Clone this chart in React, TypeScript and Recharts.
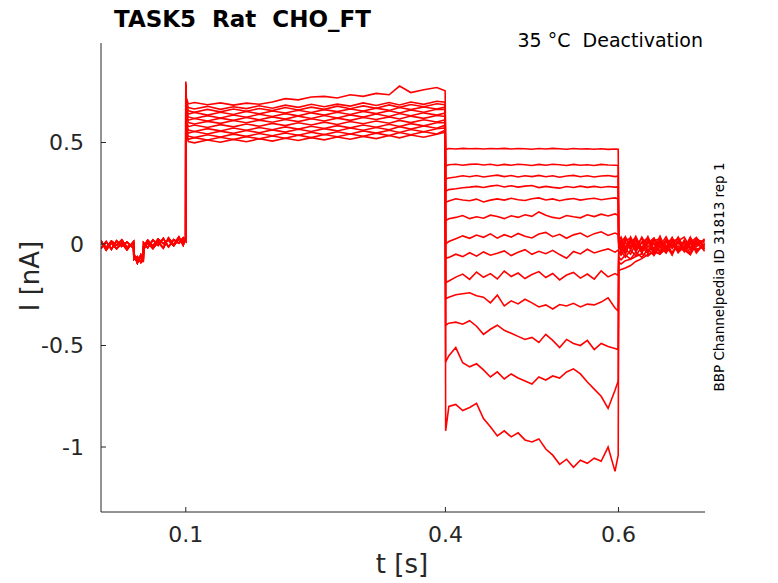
import React from 'react';
import { LineChart, Line, XAxis, YAxis } from 'recharts';

// time grids (s) for the four parts of the protocol
const preTime = [0.002, 0.008, 0.014, 0.02, 0.026, 0.032, 0.0396, 0.04, 0.044, 0.048, 0.0508, 0.0512, 0.056, 0.062, 0.068, 0.074, 0.08, 0.086, 0.092, 0.097, 0.0999];
const pulseTime = [0.1, 0.1006, 0.103, 0.11, 0.125, 0.14, 0.155, 0.17, 0.185, 0.2, 0.215, 0.23, 0.245, 0.26, 0.275, 0.29, 0.305, 0.32, 0.335, 0.347, 0.36, 0.375, 0.39, 0.3997];
const testTime = [0.4003, 0.404, 0.412, 0.42, 0.428, 0.436, 0.444, 0.452, 0.46, 0.468, 0.476, 0.484, 0.492, 0.5, 0.508, 0.516, 0.524, 0.532, 0.54, 0.548, 0.556, 0.564, 0.572, 0.58, 0.588, 0.596, 0.5997];
const tailTime = [0.6003, 0.603, 0.608, 0.614, 0.62, 0.627, 0.634, 0.641, 0.648, 0.655, 0.662, 0.669, 0.676, 0.683, 0.69, 0.6995];

// holding current before the pulse (nA), three overlapping groups of sweeps
const preA = [0.008, -0.018, 0.014, -0.006, 0.02, -0.016, 0.004, -0.058, -0.084, -0.066, -0.08, -0.012, 0.018, -0.01, 0.024, 0.002, 0.02, -0.008, 0.026, 0.012, 0.022];
const preB = [-0.022, 0.012, -0.026, 0.016, -0.012, 0.01, -0.02, -0.076, -0.062, -0.09, -0.058, 0.006, -0.018, 0.02, -0.006, 0.028, -0.014, 0.022, 0.004, 0.03, 0.014];
const preC = [0.016, -0.03, 0.006, -0.024, 0.004, -0.028, 0.012, -0.048, -0.094, -0.054, -0.088, -0.026, 0.006, -0.022, 0.01, -0.02, 0.03, -0.004, 0.034, -0.006, 0.035];
const preSets = [preA, preB, preC];

// activating pulse 0.1 - 0.4 s
const pulse1 = [0.8, 0.72, 0.69, 0.697, 0.686, 0.695, 0.684, 0.694, 0.688, 0.699, 0.716, 0.71, 0.724, 0.727, 0.719, 0.735, 0.727, 0.742, 0.735, 0.778, 0.746, 0.76, 0.771, 0.755];
const pulse2 = [0.79, 0.7, 0.672, 0.665, 0.678, 0.663, 0.676, 0.667, 0.681, 0.669, 0.684, 0.673, 0.688, 0.676, 0.689, 0.679, 0.695, 0.682, 0.697, 0.685, 0.699, 0.688, 0.703, 0.698];
const pulse3 = [0.785, 0.685, 0.656, 0.649, 0.663, 0.651, 0.665, 0.654, 0.667, 0.657, 0.672, 0.66, 0.674, 0.663, 0.679, 0.666, 0.68, 0.669, 0.685, 0.673, 0.687, 0.676, 0.691, 0.686];
const pulse4 = [0.78, 0.67, 0.64, 0.648, 0.635, 0.649, 0.638, 0.653, 0.641, 0.655, 0.645, 0.659, 0.648, 0.662, 0.652, 0.665, 0.655, 0.669, 0.658, 0.672, 0.662, 0.675, 0.665, 0.675];
const pulse5 = [0.78, 0.655, 0.626, 0.618, 0.632, 0.621, 0.635, 0.624, 0.639, 0.628, 0.642, 0.631, 0.646, 0.635, 0.649, 0.638, 0.653, 0.642, 0.656, 0.645, 0.66, 0.649, 0.664, 0.663];
const pulse6 = [0.775, 0.64, 0.61, 0.618, 0.606, 0.62, 0.609, 0.623, 0.612, 0.626, 0.615, 0.63, 0.618, 0.633, 0.621, 0.636, 0.625, 0.64, 0.628, 0.643, 0.632, 0.646, 0.635, 0.645];
const pulse7 = [0.775, 0.625, 0.598, 0.591, 0.604, 0.594, 0.608, 0.597, 0.61, 0.6, 0.613, 0.603, 0.617, 0.606, 0.62, 0.609, 0.623, 0.613, 0.626, 0.616, 0.63, 0.619, 0.633, 0.628];
const pulse8 = [0.77, 0.605, 0.578, 0.586, 0.574, 0.588, 0.577, 0.591, 0.58, 0.594, 0.583, 0.597, 0.586, 0.6, 0.589, 0.603, 0.592, 0.606, 0.595, 0.609, 0.598, 0.612, 0.601, 0.612];
const pulse9 = [0.77, 0.59, 0.561, 0.554, 0.568, 0.557, 0.571, 0.56, 0.574, 0.563, 0.577, 0.566, 0.58, 0.569, 0.583, 0.572, 0.586, 0.575, 0.59, 0.579, 0.593, 0.582, 0.597, 0.598];
const pulse10 = [0.765, 0.575, 0.546, 0.554, 0.542, 0.556, 0.545, 0.559, 0.548, 0.562, 0.551, 0.565, 0.554, 0.568, 0.557, 0.571, 0.56, 0.574, 0.563, 0.578, 0.566, 0.581, 0.57, 0.585];
const pulse11 = [0.765, 0.56, 0.531, 0.524, 0.538, 0.527, 0.541, 0.53, 0.544, 0.533, 0.547, 0.536, 0.55, 0.539, 0.553, 0.542, 0.557, 0.546, 0.56, 0.549, 0.564, 0.553, 0.568, 0.572];
const pulse12 = [0.76, 0.545, 0.516, 0.524, 0.512, 0.526, 0.515, 0.529, 0.518, 0.532, 0.521, 0.536, 0.524, 0.539, 0.528, 0.542, 0.531, 0.546, 0.534, 0.549, 0.538, 0.553, 0.542, 0.56];
const pulse13 = [0.76, 0.535, 0.505, 0.498, 0.512, 0.501, 0.515, 0.504, 0.518, 0.507, 0.521, 0.51, 0.524, 0.513, 0.527, 0.516, 0.53, 0.519, 0.534, 0.523, 0.537, 0.526, 0.541, 0.55];
const pulseSets = [pulse1, pulse2, pulse3, pulse4, pulse5, pulse6, pulse7, pulse8, pulse9, pulse10, pulse11, pulse12, pulse13];

// deactivation steps 0.4 - 0.6 s
const test1 = [0.465, 0.47, 0.468, 0.471, 0.469, 0.47, 0.468, 0.47, 0.469, 0.471, 0.468, 0.47, 0.469, 0.467, 0.47, 0.468, 0.471, 0.469, 0.467, 0.47, 0.468, 0.469, 0.467, 0.469, 0.466, 0.468, 0.467];
const test2 = [0.385, 0.39, 0.393, 0.388, 0.392, 0.394, 0.389, 0.393, 0.387, 0.392, 0.388, 0.393, 0.39, 0.387, 0.392, 0.388, 0.393, 0.39, 0.387, 0.392, 0.388, 0.39, 0.387, 0.392, 0.389, 0.388, 0.387];
const test3 = [0.32, 0.325, 0.33, 0.336, 0.331, 0.337, 0.33, 0.335, 0.339, 0.332, 0.337, 0.33, 0.336, 0.332, 0.338, 0.331, 0.336, 0.329, 0.335, 0.338, 0.331, 0.336, 0.33, 0.335, 0.337, 0.332, 0.335];
const test4 = [0.26, 0.268, 0.272, 0.277, 0.28, 0.284, 0.278, 0.285, 0.289, 0.281, 0.287, 0.28, 0.285, 0.288, 0.278, 0.284, 0.279, 0.275, 0.283, 0.278, 0.285, 0.279, 0.284, 0.278, 0.283, 0.28, 0.281];
const test5 = [0.205, 0.212, 0.223, 0.217, 0.213, 0.221, 0.207, 0.216, 0.222, 0.216, 0.225, 0.218, 0.214, 0.223, 0.227, 0.217, 0.222, 0.213, 0.22, 0.224, 0.216, 0.222, 0.225, 0.218, 0.223, 0.227, 0.222];
const test6 = [0.115, 0.124, 0.131, 0.14, 0.125, 0.134, 0.127, 0.142, 0.135, 0.125, 0.139, 0.131, 0.144, 0.136, 0.158, 0.142, 0.131, 0.126, 0.14, 0.134, 0.129, 0.144, 0.135, 0.147, 0.138, 0.148, 0.141];
const test7 = [0.0, 0.012, 0.026, 0.04, 0.028, 0.044, 0.033, 0.05, 0.029, 0.046, 0.034, 0.052, 0.038, 0.03, 0.049, 0.057, 0.036, 0.048, 0.028, 0.045, 0.054, 0.035, 0.051, 0.06, 0.042, 0.054, 0.047];
const test8 = [-0.07, -0.066, -0.05, -0.062, -0.043, -0.06, -0.039, -0.055, -0.046, -0.034, -0.057, -0.041, -0.028, -0.051, -0.036, -0.048, -0.031, -0.052, -0.07, -0.037, -0.049, -0.026, -0.044, -0.033, -0.024, -0.04, -0.03];
const test9 = [-0.19, -0.182, -0.163, -0.148, -0.174, -0.138, -0.164, -0.146, -0.172, -0.133, -0.16, -0.143, -0.17, -0.15, -0.136, -0.165, -0.145, -0.177, -0.153, -0.14, -0.168, -0.148, -0.173, -0.132, -0.162, -0.146, -0.155];
const test10 = [-0.27, -0.262, -0.25, -0.245, -0.24, -0.255, -0.262, -0.29, -0.252, -0.305, -0.28, -0.295, -0.272, -0.29, -0.31, -0.3, -0.32, -0.298, -0.305, -0.292, -0.31, -0.296, -0.3, -0.286, -0.265, -0.315, -0.33];
const test11 = [-0.4, -0.39, -0.385, -0.395, -0.378, -0.405, -0.445, -0.42, -0.4, -0.425, -0.44, -0.455, -0.47, -0.46, -0.485, -0.445, -0.475, -0.51, -0.47, -0.49, -0.5, -0.475, -0.52, -0.49, -0.505, -0.515, -0.52];
const test12 = [-0.58, -0.55, -0.51, -0.585, -0.605, -0.59, -0.62, -0.655, -0.63, -0.665, -0.64, -0.66, -0.675, -0.69, -0.655, -0.67, -0.65, -0.66, -0.63, -0.615, -0.64, -0.68, -0.715, -0.75, -0.81, -0.72, -0.675];
const test13 = [-0.92, -0.8, -0.79, -0.82, -0.805, -0.785, -0.86, -0.9, -0.945, -0.92, -0.95, -0.93, -0.965, -0.975, -0.96, -1.01, -1.04, -1.085, -1.06, -1.1, -1.065, -1.08, -1.055, -1.07, -1.0, -1.12, -1.04];
const testSets = [test1, test2, test3, test4, test5, test6, test7, test8, test9, test10, test11, test12, test13];

// tail currents after 0.6 s
const tail1 = [0.025, 0.01, -0.03, 0.035, -0.015, 0.028, -0.035, 0.02, -0.008, 0.036, -0.022, 0.016, -0.03, 0.03, -0.004, 0.02];
const tail2 = [0.0, -0.022, 0.03, -0.012, 0.038, -0.028, 0.016, -0.04, 0.022, -0.016, 0.032, -0.034, 0.012, -0.02, 0.028, -0.01];
const tail3 = [0.012, 0.034, -0.016, 0.022, -0.04, 0.008, 0.03, -0.024, 0.038, -0.03, 0.01, 0.026, -0.038, 0.018, -0.014, 0.026];
const tail4 = [-0.012, 0.006, 0.036, -0.03, 0.018, -0.046, 0.022, 0.0, -0.036, 0.02, -0.012, 0.034, -0.02, 0.006, 0.032, -0.024];
const tail5 = [0.006, -0.034, 0.018, 0.028, -0.024, 0.034, -0.016, 0.026, -0.048, 0.006, 0.024, -0.04, 0.02, -0.03, 0.008, 0.014];
const tail6 = [-0.02, 0.02, -0.042, 0.006, 0.032, -0.02, 0.036, -0.032, 0.014, -0.042, 0.026, 0.004, -0.026, 0.034, -0.036, 0.0];
const tail7 = [0.0, -0.046, 0.008, -0.022, 0.024, -0.038, 0.004, 0.03, -0.02, 0.022, -0.05, 0.016, 0.034, -0.018, 0.016, -0.036];
const tail8 = [-0.025, 0.0, -0.052, 0.02, -0.03, 0.01, -0.042, 0.016, 0.026, -0.036, 0.01, -0.026, 0.004, -0.046, 0.022, 0.008];
const tail9 = [-0.035, -0.055, -0.025, -0.05, 0.002, -0.038, 0.016, -0.054, 0.008, -0.022, 0.028, -0.042, -0.01, 0.02, -0.044, 0.004];
const tail10 = [-0.045, -0.035, -0.065, -0.03, -0.058, -0.014, -0.046, 0.006, -0.038, -0.008, -0.054, 0.012, -0.03, -0.052, 0.0, -0.024];
const tail11 = [-0.065, -0.078, -0.055, -0.074, -0.04, -0.066, -0.026, -0.056, -0.012, -0.044, 0.0, -0.04, -0.016, -0.052, 0.006, -0.026];
const tail12 = [-0.09, -0.098, -0.082, -0.075, -0.062, -0.048, -0.06, -0.034, -0.048, -0.018, -0.042, -0.01, -0.032, 0.004, -0.026, -0.012];
const tail13 = [-0.13, -0.126, -0.118, -0.106, -0.086, -0.072, -0.052, -0.038, -0.05, -0.022, -0.04, -0.012, -0.034, 0.0, -0.028, -0.012];
const tailSets = [tail1, tail2, tail3, tail4, tail5, tail6, tail7, tail8, tail9, tail10, tail11, tail12, tail13];

const xTicks = [0.1, 0.4, 0.6];
const yTicks = [-1, -0.5, 0, 0.5];

const times = [...preTime, ...pulseTime, ...testTime, ...tailTime];
const sweeps = pulseSets.map((p, i) => [...preSets[i % 3], ...p, ...testSets[i], ...tailSets[i]]);
const data = times.map((t, k) => {
  const row: Record<string, number> = { t };
  sweeps.forEach((s, i) => {
    row['s' + i] = s[k];
  });
  return row;
});

const font = 'DejaVu Sans, sans-serif';
const axisColor = '#262626';

export default function App() {
  return (
    <div style={{ position: 'absolute', left: 0, top: 0, width: 778, height: 583, background: '#fff' }}>
      <LineChart width={778} height={583} data={data} margin={{ top: 43, right: 73, bottom: 0, left: 0 }}>
        <XAxis
          dataKey="t"
          type="number"
          domain={[0.002, 0.7]}
          allowDataOverflow
          ticks={xTicks}
          height={71}
          tickSize={-5}
          tickMargin={19}
          stroke={axisColor}
          tick={{ fill: axisColor, fontSize: 22, fontFamily: font }}
        />
        <YAxis
          type="number"
          domain={[-1.32, 0.99]}
          allowDataOverflow
          ticks={yTicks}
          width={101}
          tickSize={-5}
          tickMargin={22}
          stroke={axisColor}
          tick={{ fill: axisColor, fontSize: 22, fontFamily: font }}
        />
        {sweeps.map((_, i) => (
          <Line
            key={i}
            dataKey={'s' + i}
            type="linear"
            stroke="#ff0000"
            strokeWidth={1.6}
            dot={false}
            activeDot={false}
            isAnimationActive={false}
          />
        ))}
      </LineChart>
      <svg width={778} height={583} style={{ position: 'absolute', left: 0, top: 0, pointerEvents: 'none' }}>
        <text x={114} y={27} fontFamily={font} fontWeight="bold" fontSize={23} fill="#000" style={{ whiteSpace: 'pre' }}>
          TASK5  Rat  CHO_FT
        </text>
        <text x={703} y={47} textAnchor="end" fontFamily={font} fontSize={19} fill="#000" style={{ whiteSpace: 'pre' }}>
          35 °C  Deactivation
        </text>
        <text transform="translate(724,277) rotate(-90)" textAnchor="middle" fontFamily={font} fontSize={13.5} fill="#000">
          BBP Channelpedia ID 31813 rep 1
        </text>
        <text transform="translate(39,276) rotate(-90)" textAnchor="middle" fontFamily={font} fontSize={26} fill={axisColor}>
          I [nA]
        </text>
        <text x={402} y={573} textAnchor="middle" fontFamily={font} fontSize={26} fill={axisColor}>
          t [s]
        </text>
      </svg>
    </div>
  );
}
